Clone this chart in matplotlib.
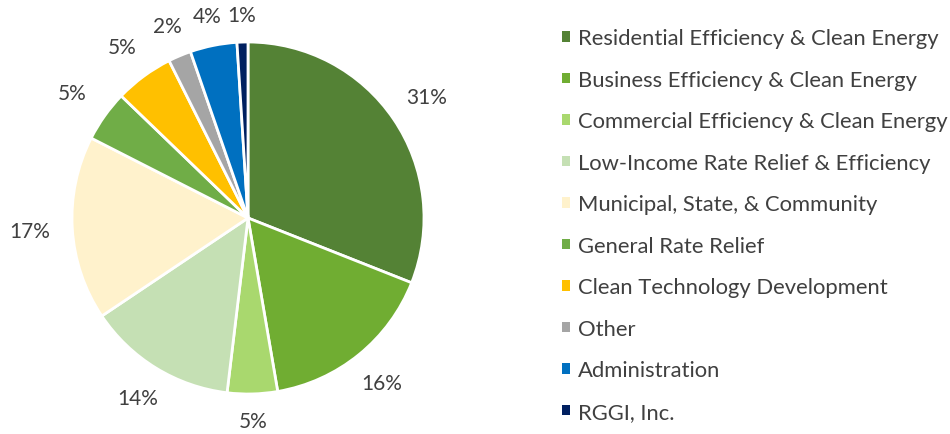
import numpy as np
import matplotlib
matplotlib.use("Agg")
import matplotlib.pyplot as plt
from matplotlib.patches import Patch

plt.rcParams['font.family'] = ['Lato', 'DejaVu Sans']

categories = [
    "Residential Efficiency & Clean Energy",
    "Business Efficiency & Clean Energy",
    "Commercial Efficiency & Clean Energy",
    "Low-Income Rate Relief & Efficiency",
    "Municipal, State, & Community",
    "General Rate Relief",
    "Clean Technology Development",
    "Other",
    "Administration",
    "RGGI, Inc.",
]
shares = [31.0, 16.3, 4.6, 13.7, 16.9, 4.7, 5.4, 2.1, 4.3, 1.0]
colors = ["#548235", "#70AD32", "#A9D86E", "#C5E0B4", "#FFF2CC",
          "#70AD47", "#FFC000", "#A5A5A5", "#0070C0", "#002060"]

text_color = "#404040"

fig = plt.figure(figsize=(9.5, 4.35), dpi=100)
ax = fig.add_axes([72 / 950, 40 / 435, 352 / 950, 352 / 435])

wedges, texts, autotexts = ax.pie(
    shares, colors=colors, startangle=90, counterclock=False,
    autopct='%.0f%%', pctdistance=1.2,
    wedgeprops=dict(edgecolor="white", linewidth=2),
    textprops=dict(color=text_color, fontsize=15),
)
ax.set_xlim(-1, 1)
ax.set_ylim(-1, 1)
ax.set_aspect('equal')

# Excel-style label placement: near edge of the label at fixed gap from the rim
for w, t in zip(wedges, autotexts):
    ang = np.deg2rad((w.theta1 + w.theta2) / 2)
    r = 1.15 + 0.09 * abs(np.cos(ang))
    t.set_position((r * np.cos(ang), r * np.sin(ang)))

handles = [Patch(facecolor=c, edgecolor='none') for c in colors]
leg = fig.legend(handles, categories, loc='upper left',
                 bbox_to_anchor=(542 / 950, 1 - 9.5 / 435),
                 frameon=False, fontsize=15.8, handlelength=0.38, handleheight=0.38,
                 handletextpad=0.37, labelspacing=0.98)
for t in leg.get_texts():
    t.set_color(text_color)

fig.savefig("out.png", dpi=100)
